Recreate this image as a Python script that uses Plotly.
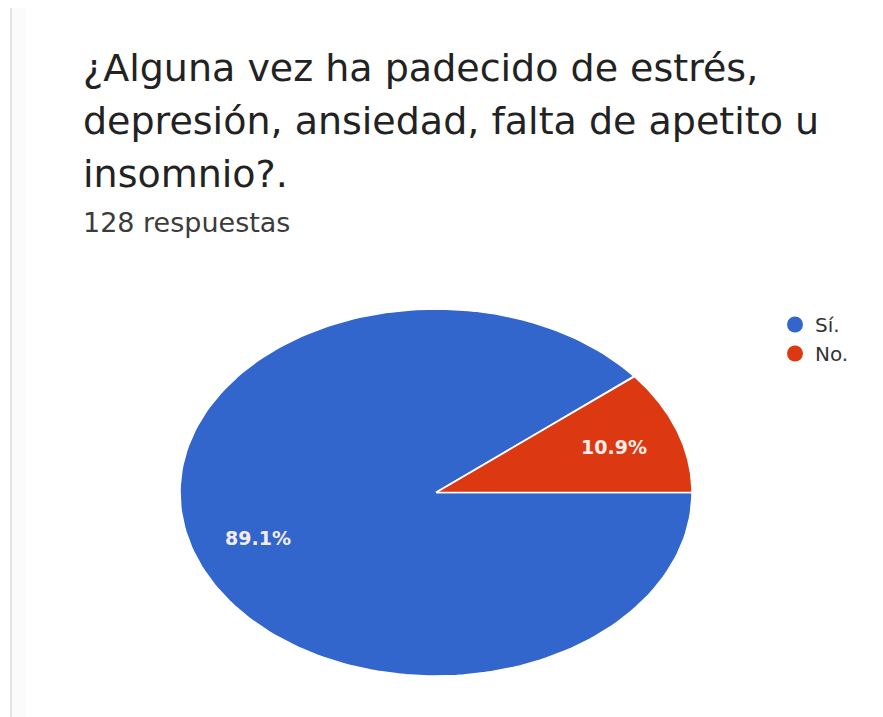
import numpy as np
import plotly.graph_objects as go

# Survey answers
labels = ["Sí.", "No."]
counts = [114, 14]
colors = ["#3366cc", "#dc3912"]
title_lines = [
    "¿Alguna vez ha padecido de estrés,",
    "depresión, ansiedad, falta de apetito u",
    "insomnio?.",
]
subtitle = "128 respuestas"

W, H = 883, 717
FONT = "DejaVu Sans"
total = sum(counts)
fracs = [c / total for c in counts]

fig = go.Figure()

# Pie wedges drawn clockwise from 3 o'clock on a stretched unit circle
start = 0.0
label_r = 0.74
for name, frac, col in zip(labels, fracs, colors):
    a0 = start
    a1 = start - frac * 2 * np.pi
    t = np.linspace(a0, a1, 200)
    xs = np.concatenate([[0], np.cos(t), [0]])
    ys = np.concatenate([[0], np.sin(t), [0]])
    fig.add_trace(go.Scatter(
        x=xs, y=ys, mode="lines", fill="toself", fillcolor=col,
        line=dict(color="white", width=1.5), hoverinfo="skip",
        showlegend=False,
    ))
    mid = (a0 + a1) / 2
    fig.add_annotation(
        x=label_r * np.cos(mid), y=label_r * np.sin(mid), xref="x", yref="y",
        text=f"<b>{frac * 100:.1f}%</b>", showarrow=False,
        font=dict(family=FONT, size=19, color="#f4ece9"),
    )
    start = a1

# Legend entries
for name, col in zip(labels, colors):
    fig.add_trace(go.Scatter(
        x=[None], y=[None], mode="markers", name=name,
        marker=dict(color=col, size=17, symbol="circle"),
    ))

# Title and response count
title_y = [68, 121, 174]
for line, yp in zip(title_lines, title_y):
    fig.add_annotation(
        x=81 / W, y=1 - yp / H, xref="paper", yref="paper",
        xanchor="left", yanchor="middle", showarrow=False, text=line,
        font=dict(family=FONT, size=38, color="#222222"),
    )
fig.add_annotation(
    x=81 / W, y=1 - 223 / H, xref="paper", yref="paper",
    xanchor="left", yanchor="middle", showarrow=False, text=subtitle,
    font=dict(family=FONT, size=27, color="#3c3c3c"),
)

# Card edge on the left
fig.add_shape(type="rect", xref="paper", yref="paper",
              x0=12 / W, x1=26 / W, y0=0, y1=1 - 8 / H,
              fillcolor="#fbfbfb", line=dict(width=0), layer="below")
fig.add_shape(type="line", xref="paper", yref="paper",
              x0=11 / W, x1=11 / W, y0=0, y1=1 - 8 / H,
              line=dict(color="#e2e2e2", width=2))

fig.update_layout(
    width=W, height=H,
    margin=dict(l=0, r=0, t=0, b=0),
    paper_bgcolor="white", plot_bgcolor="white",
    xaxis=dict(domain=[180 / W, 692 / W], range=[-1, 1], visible=False,
               fixedrange=True),
    yaxis=dict(domain=[(H - 676) / H, (H - 309) / H], range=[-1, 1],
               visible=False, fixedrange=True),
    legend=dict(x=775 / W, y=1 - 305 / H, xanchor="left", yanchor="top",
                font=dict(family=FONT, size=20, color="#333333"),
                itemsizing="trace", tracegroupgap=0,
                bgcolor="rgba(0,0,0,0)"),
    showlegend=True,
)

fig.write_html("out.html")
